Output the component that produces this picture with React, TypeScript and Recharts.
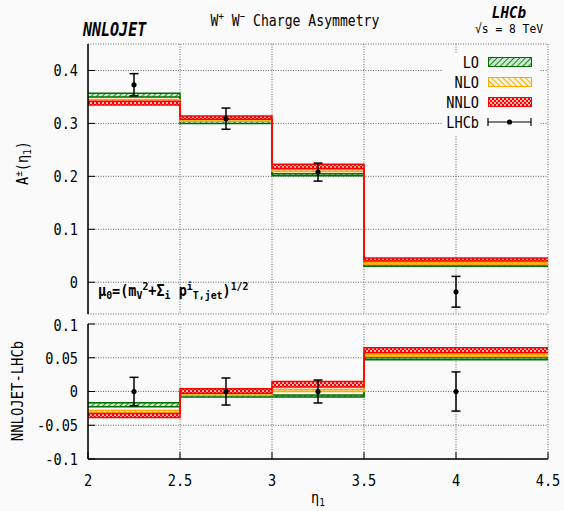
import { ComposedChart, Area, Scatter, ErrorBar, XAxis, YAxis, CartesianGrid } from "recharts";

const FONT = "'DejaVu Sans Mono', monospace";

// bin edges in eta_1 and tick positions
const binEdges = [2, 2.5, 3, 3.5, 4.5];
const xTicks = [2, 2.5, 3, 3.5, 4, 4.5];
const mainTicks = [0, 0.1, 0.2, 0.3, 0.4];
const diffTicks = [-0.1, -0.05, 0, 0.05, 0.1];

// A±(eta_1) per bin: scale bands
const loLow = [0.35, 0.3, 0.201, 0.03];
const loHigh = [0.357, 0.304, 0.205, 0.033];
const nloLow = [0.341, 0.304, 0.209, 0.034];
const nloHigh = [0.345, 0.307, 0.213, 0.037];
const nnloLow = [0.335, 0.308, 0.215, 0.04];
const nnloHigh = [0.342, 0.314, 0.223, 0.046];

// LHCb data
const lhcbEta = [2.25, 2.75, 3.25, 4.0];
const lhcbVal = [0.373, 0.309, 0.208, -0.018];
const lhcbErr = [0.021, 0.02, 0.017, 0.029];

// NNLOJET - LHCb
const loDiffLow = [-0.0225, -0.008, -0.008, 0.047];
const loDiffHigh = [-0.0165, -0.004, -0.005, 0.05];
const nloDiffLow = [-0.032, -0.005, 0.0, 0.052];
const nloDiffHigh = [-0.028, -0.002, 0.003, 0.055];
const nnloDiffLow = [-0.0385, -0.0025, 0.0065, 0.0575];
const nnloDiffHigh = [-0.0325, 0.004, 0.015, 0.065];

const LO_C = "#006e00";
const NLO_C = "#ffa500";
const NNLO_C = "#ff0000";

type Band = [number[], number[]];

function steps(lo: Band, nlo: Band, nnlo: Band) {
  const n = binEdges.length - 1;
  return binEdges.map((x, i) => {
    const b = Math.min(i, n - 1);
    return {
      x,
      lo: [lo[0][b], lo[1][b]],
      nlo: [nlo[0][b], nlo[1][b]],
      nnlo: [nnlo[0][b], nnlo[1][b]],
    };
  });
}

const mainData = steps([loLow, loHigh], [nloLow, nloHigh], [nnloLow, nnloHigh]);
const diffData = steps([loDiffLow, loDiffHigh], [nloDiffLow, nloDiffHigh], [nnloDiffLow, nnloDiffHigh]);
const lhcbPts = lhcbEta.map((x, i) => ({ x, y: lhcbVal[i], err: lhcbErr[i] }));
const lhcbDiff = lhcbEta.map((x, i) => ({ x, y: 0, err: lhcbErr[i] }));

const axisLine = { stroke: "#000", strokeWidth: 1.5 };
const tickLine = { stroke: "#000", strokeWidth: 1 };
const empty = () => <g />;

function YTick(props: any) {
  const { x, y, payload } = props;
  return (
    <text
      transform={`translate(${x},${y}) scale(0.85,1)`}
      textAnchor="end"
      dy="0.36em"
      fontFamily={FONT}
      fontSize={16}
      fill="#000"
    >
      {String(payload.value)}
    </text>
  );
}

function XTick(props: any) {
  const { x, y, payload } = props;
  return (
    <text
      transform={`translate(${x},${y}) scale(0.85,1)`}
      textAnchor="middle"
      dy="0.72em"
      fontFamily={FONT}
      fontSize={16}
      fill="#000"
    >
      {String(payload.value)}
    </text>
  );
}

function Dot(props: any) {
  return <circle cx={props.cx} cy={props.cy} r={2.6} fill="#000" />;
}

function Defs() {
  return (
    <defs>
      <pattern id="loFill" width="4" height="4" patternUnits="userSpaceOnUse" patternTransform="rotate(45)">
        <rect width="4" height="4" fill="#cfe6cf" />
        <line x1="0" y1="0" x2="0" y2="4" stroke="#1f8a1f" strokeWidth="2" />
      </pattern>
      <pattern id="nloFill" width="4" height="4" patternUnits="userSpaceOnUse" patternTransform="rotate(-45)">
        <rect width="4" height="4" fill="#fff6e0" />
        <line x1="0" y1="0" x2="0" y2="4" stroke="#ffa500" strokeWidth="2" />
      </pattern>
      <pattern id="nnloFill" width="4" height="4" patternUnits="userSpaceOnUse">
        <rect width="4" height="4" fill="#ff0000" />
        <rect x="0" y="0" width="2" height="2" fill="#ffb8b8" />
        <rect x="2" y="2" width="2" height="2" fill="#ffb8b8" />
      </pattern>
    </defs>
  );
}

function Bands() {
  return [
    <Area
      key="lo"
      type="stepAfter"
      dataKey="lo"
      stroke={LO_C}
      strokeWidth={1.5}
      fill="url(#loFill)"
      fillOpacity={1}
      isAnimationActive={false}
      dot={false}
      activeDot={false}
    />,
    <Area
      key="nlo"
      type="stepAfter"
      dataKey="nlo"
      stroke={NLO_C}
      strokeWidth={1.5}
      fill="url(#nloFill)"
      fillOpacity={1}
      isAnimationActive={false}
      dot={false}
      activeDot={false}
    />,
    <Area
      key="nnlo"
      type="stepAfter"
      dataKey="nnlo"
      stroke={NNLO_C}
      strokeWidth={1.5}
      fill="url(#nnloFill)"
      fillOpacity={1}
      isAnimationActive={false}
      dot={false}
      activeDot={false}
    />,
  ];
}

function Frame(domain: [number, number], ticks: number[], bottomLabels: boolean) {
  return [
    <XAxis
      key="xb"
      type="number"
      dataKey="x"
      domain={[2, 4.5]}
      ticks={xTicks}
      allowDataOverflow
      height={bottomLabels ? 30 : 0}
      tick={bottomLabels ? XTick : empty}
      tickSize={-7}
      tickMargin={22}
      axisLine={axisLine}
      tickLine={tickLine}
    />,
    <XAxis
      key="xt"
      xAxisId="t"
      orientation="top"
      type="number"
      domain={[2, 4.5]}
      ticks={xTicks}
      allowDataOverflow
      height={0}
      tick={empty}
      tickSize={-7}
      axisLine={axisLine}
      tickLine={tickLine}
    />,
    <YAxis
      key="yl"
      type="number"
      domain={domain}
      ticks={ticks}
      allowDataOverflow
      width={88}
      tick={YTick}
      tickSize={-7}
      tickMargin={17}
      axisLine={axisLine}
      tickLine={tickLine}
    />,
    <YAxis
      key="yr"
      yAxisId="r"
      orientation="right"
      type="number"
      domain={domain}
      ticks={ticks}
      allowDataOverflow
      width={0}
      tick={empty}
      tickSize={-7}
      axisLine={axisLine}
      tickLine={tickLine}
    />,
  ];
}

export default function App() {
  const txt = { fontFamily: FONT, fill: "#000" };
  return (
    <div
      style={{
        position: "absolute",
        left: 0,
        top: 0,
        width: 564,
        height: 511,
        background: "#fafafa",
        overflow: "hidden",
      }}
    >
      <div style={{ position: "absolute", left: 0, top: 0 }}>
        <ComposedChart width={564} height={320} data={mainData} margin={{ top: 44, right: 16, bottom: 6, left: 0 }}>
          <Defs />
          <CartesianGrid stroke="#666" strokeDasharray="1 1.5" />
          {Frame([-0.06, 0.45], mainTicks, false)}
          {Bands()}
          <Scatter data={lhcbPts} dataKey="y" shape={Dot} isAnimationActive={false}>
            <ErrorBar dataKey="err" direction="y" width={4.5} stroke="#000" strokeWidth={1.5} />
          </Scatter>
        </ComposedChart>
      </div>
      <div style={{ position: "absolute", left: 0, top: 316 }}>
        <ComposedChart width={564} height={195} data={diffData} margin={{ top: 8, right: 16, bottom: 22, left: 0 }}>
          <CartesianGrid stroke="#666" strokeDasharray="1 1.5" />
          {Frame([-0.1, 0.1], diffTicks, true)}
          {Bands()}
          <Scatter data={lhcbDiff} dataKey="y" shape={Dot} isAnimationActive={false}>
            <ErrorBar dataKey="err" direction="y" width={4.5} stroke="#000" strokeWidth={1.5} />
          </Scatter>
        </ComposedChart>
      </div>
      <svg width={564} height={511} style={{ position: "absolute", left: 0, top: 0 }}>
        <text {...txt} transform="translate(83,36) scale(0.79,1)" fontSize={19} fontWeight="bold" fontStyle="italic">
          NNLOJET
        </text>
        <text {...txt} transform="translate(295,26) scale(0.82,1)" fontSize={16} textAnchor="middle">
          W<tspan fontSize={11} dy={-6}>+</tspan>
          <tspan dy={6}> W</tspan>
          <tspan fontSize={11} dy={-6}>−</tspan>
          <tspan dy={6}> Charge Asymmetry</tspan>
        </text>
        <text {...txt} transform="translate(509,18) scale(0.95,1)" fontSize={15} fontWeight="bold" fontStyle="italic" textAnchor="middle">
          LHCb
        </text>
        <text {...txt} transform="translate(509,33) scale(0.87,1)" fontSize={13} textAnchor="middle">
          √s = 8 TeV
        </text>
        <text {...txt} transform="translate(28,163) rotate(-90) scale(0.85,1)" fontSize={16} textAnchor="middle">
          A<tspan fontSize={11} dy={-6}>±</tspan>
          <tspan dy={6}>(η</tspan>
          <tspan fontSize={11} dy={3}>1</tspan>
          <tspan dy={-3}>)</tspan>
        </text>
        <text {...txt} transform="translate(23,391) rotate(-90) scale(0.87,1)" fontSize={16} textAnchor="middle">
          NNLOJET-LHCb
        </text>
        <text {...txt} transform="translate(318,503) scale(0.85,1)" fontSize={16} textAnchor="middle">
          η<tspan fontSize={11} dy={3}>1</tspan>
        </text>
        <text {...txt} transform="translate(98,296) scale(0.9,1)" fontSize={15} fontWeight="bold">
          μ<tspan fontSize={11} dy={3}>0</tspan>
          <tspan dy={-3}>=(m</tspan>
          <tspan fontSize={11} dy={3}>V</tspan>
          <tspan fontSize={11} dy={-9}>2</tspan>
          <tspan dy={6}>+Σ</tspan>
          <tspan fontSize={11} dy={3}>i</tspan>
          <tspan dy={-3}> p</tspan>
          <tspan fontSize={11} dy={-6}>i</tspan>
          <tspan fontSize={11} dy={9}>T,jet</tspan>
          <tspan dy={-3}>)</tspan>
          <tspan fontSize={11} dy={-6}>1/2</tspan>
        </text>
        <g>
          <rect x={443} y={53} width={96} height={83} fill="#fafafa" />
          {[
            { label: "LO", fill: "url(#loFill)", stroke: LO_C },
            { label: "NLO", fill: "url(#nloFill)", stroke: NLO_C },
            { label: "NNLO", fill: "url(#nnloFill)", stroke: NNLO_C },
          ].map((it, i) => (
            <g key={it.label}>
              <text {...txt} transform={`translate(479,${68 + i * 20}) scale(0.85,1)`} fontSize={16} textAnchor="end">
                {it.label}
              </text>
              <rect x={488.5} y={57.5 + i * 20} width={43} height={9} fill={it.fill} stroke={it.stroke} strokeWidth={1} />
            </g>
          ))}
          <text {...txt} transform="translate(479,128) scale(0.85,1)" fontSize={16} textAnchor="end">
            LHCb
          </text>
          <line x1={488} y1={122} x2={531} y2={122} stroke="#000" strokeWidth={1.2} />
          <line x1={488} y1={118} x2={488} y2={126} stroke="#000" strokeWidth={1.2} />
          <line x1={531} y1={118} x2={531} y2={126} stroke="#000" strokeWidth={1.2} />
          <circle cx={509.5} cy={122} r={2.6} fill="#000" />
        </g>
      </svg>
    </div>
  );
}
